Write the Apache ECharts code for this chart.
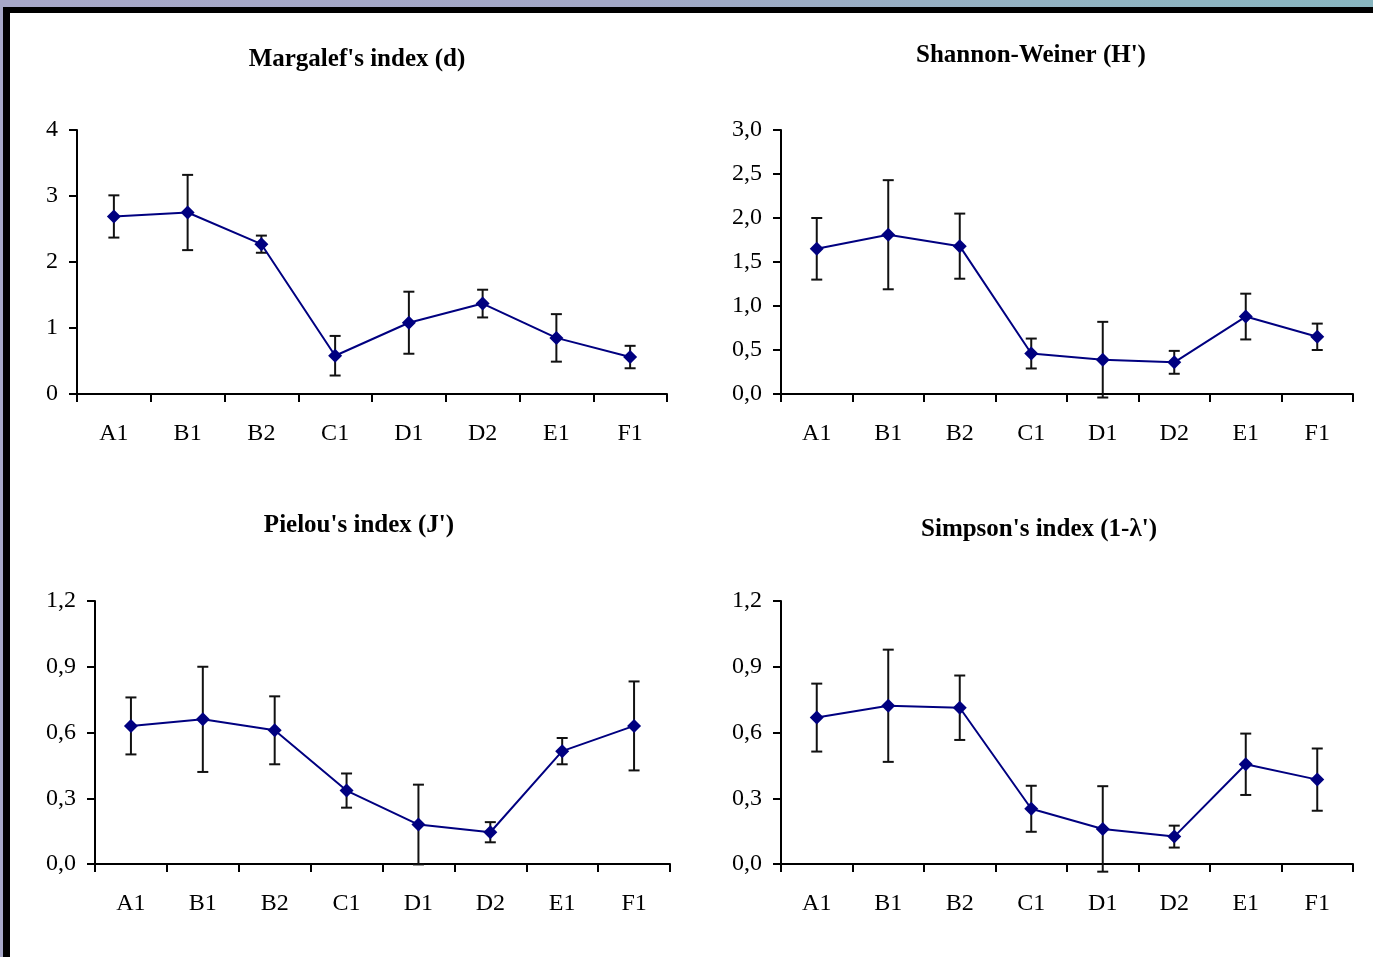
<!DOCTYPE html>
<html>
<head>
<meta charset="utf-8">
<title>Diversity indices</title>
<script src="https://cdn.jsdelivr.net/npm/echarts@6/dist/echarts.min.js"></script>
<style>
  html, body { margin: 0; padding: 0; }
  body {
    width: 1373px; height: 957px; overflow: hidden; position: relative;
    background: linear-gradient(to right, #a7a8c8 0%, #a2a7c6 45%, #93b2c2 75%, #88b6c0 100%);
  }
  #frame {
    position: absolute; left: 3px; top: 7px; right: 0; bottom: 0;
    border-left: 7px solid #000; border-top: 6px solid #000;
    background: #fff;
  }
  #chart { position: absolute; left: 0; top: 0; width: 1373px; height: 957px; }
</style>
</head>
<body>
<div id="frame"></div>
<div id="chart"></div>
<script>
// Sampling sites (x categories)
const sites = ['A1', 'B1', 'B2', 'C1', 'D1', 'D2', 'E1', 'F1'];

// Margalef's richness index (d): mean and standard deviation
const margalefMean = [2.69, 2.75, 2.27, 0.58, 1.08, 1.37, 0.85, 0.56];
const margalefSd   = [0.32, 0.57, 0.13, 0.30, 0.47, 0.21, 0.36, 0.17];

// Shannon-Weiner diversity (H')
const shannonMean = [1.65, 1.81, 1.68, 0.46, 0.39, 0.36, 0.88, 0.65];
const shannonSd   = [0.35, 0.62, 0.37, 0.17, 0.43, 0.13, 0.26, 0.15];

// Pielou's evenness (J')
const pielouMean = [0.63, 0.66, 0.61, 0.335, 0.18, 0.145, 0.515, 0.63];
const pielouSd   = [0.13, 0.24, 0.155, 0.078, 0.182, 0.046, 0.06, 0.203];

// Simpson's index (1-λ')
const simpsonMean = [0.668, 0.722, 0.713, 0.252, 0.16, 0.125, 0.455, 0.385];
const simpsonSd   = [0.155, 0.256, 0.147, 0.105, 0.195, 0.05, 0.14, 0.142];

// Value-axis ranges: [min, max, interval]
const margalefAxis = [0, 4, 1];
const shannonAxis  = [0, 3, 0.5];
const pielouAxis   = [0, 1.2, 0.3];
const simpsonAxis  = [0, 1.2, 0.3];

const panelTitles = ["Margalef's index (d)", "Shannon-Weiner (H')", "Pielou's index (J')", "Simpson's index (1-λ')"];

const SERIF = '"Liberation Serif", "Times New Roman", "DejaVu Serif", serif';
const NAVY = '#000080';

const panels = [
  { mean: margalefMean, sd: margalefSd, axis: margalefAxis, decimals: 0,
    grid: { left: 77, top: 130, width: 590, height: 264 }, title: [357, 60] },
  { mean: shannonMean, sd: shannonSd, axis: shannonAxis, decimals: 1,
    grid: { left: 781, top: 130, width: 572, height: 264 }, title: [1031, 56] },
  { mean: pielouMean, sd: pielouSd, axis: pielouAxis, decimals: 1,
    grid: { left: 95, top: 601, width: 575, height: 263 }, title: [359, 526] },
  { mean: simpsonMean, sd: simpsonSd, axis: simpsonAxis, decimals: 1,
    grid: { left: 781, top: 601, width: 572, height: 263 }, title: [1039, 530] }
];

function errorBarItem(params, api) {
  const idx = api.value(0);
  const m = api.value(1);
  const s = api.value(2);
  const hi = api.coord([idx, m + s]);
  const lo = api.coord([idx, m - s]);
  const hw = 5.5;
  const st = { stroke: '#111', lineWidth: 2 };
  return {
    type: 'group',
    children: [
      { type: 'line', shape: { x1: hi[0], y1: hi[1], x2: lo[0], y2: lo[1] }, style: st },
      { type: 'line', shape: { x1: hi[0] - hw, y1: hi[1], x2: hi[0] + hw, y2: hi[1] }, style: st },
      { type: 'line', shape: { x1: lo[0] - hw, y1: lo[1], x2: lo[0] + hw, y2: lo[1] }, style: st }
    ]
  };
}

const axisLineStyle = { color: '#000', width: 2 };
const labelFont = { color: '#000', fontFamily: SERIF, fontSize: 24 };

const option = {
  backgroundColor: 'transparent',
  animation: false,
  grid: panels.map(p => Object.assign({ containLabel: false }, p.grid)),
  xAxis: panels.map((p, i) => ({
    type: 'category',
    gridIndex: i,
    data: sites,
    boundaryGap: true,
    axisLine: { show: true, lineStyle: axisLineStyle },
    axisTick: { show: true, inside: false, length: 8, alignWithLabel: false, interval: 0, lineStyle: axisLineStyle },
    axisLabel: Object.assign({ show: true, interval: 0, margin: 28 }, labelFont),
    splitLine: { show: false },
    splitArea: { show: false }
  })),
  yAxis: panels.map((p, i) => ({
    type: 'value',
    gridIndex: i,
    min: p.axis[0],
    max: p.axis[1],
    interval: p.axis[2],
    axisLine: { show: true, lineStyle: axisLineStyle },
    axisTick: { show: true, inside: false, length: 8, lineStyle: axisLineStyle },
    axisLabel: Object.assign({
      show: true, margin: 19, padding: [4, 0, 0, 0],
      formatter: v => v.toFixed(p.decimals).replace('.', ',')
    }, labelFont),
    splitLine: { show: false },
    splitArea: { show: false }
  })),
  series: panels.flatMap((p, i) => [
    {
      type: 'custom',
      xAxisIndex: i,
      yAxisIndex: i,
      clip: false,
      z: 2,
      renderItem: errorBarItem,
      data: p.mean.map((m, k) => [k, m, p.sd[k]])
    },
    {
      type: 'line',
      xAxisIndex: i,
      yAxisIndex: i,
      z: 3,
      data: p.mean,
      symbol: 'diamond',
      symbolSize: 14,
      showSymbol: true,
      lineStyle: { color: NAVY, width: 2 },
      itemStyle: { color: NAVY, borderWidth: 0 },
      emphasis: { disabled: true }
    }
  ]),
  graphic: panels.map((p, i) => ({
    type: 'text',
    x: p.title[0],
    y: p.title[1],
    style: {
      text: panelTitles[i],
      fill: '#000',
      font: 'bold 25px ' + SERIF,
      textAlign: 'center',
      textVerticalAlign: 'middle'
    }
  }))
};

const chart = echarts.init(document.getElementById('chart'), null, { renderer: 'canvas' });
chart.setOption(option);
</script>
</body>
</html>
